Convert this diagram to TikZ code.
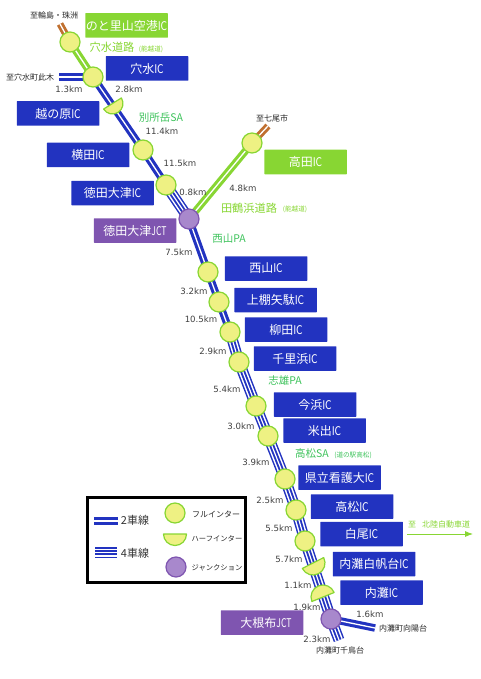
\documentclass[tikz,border=0pt]{standalone}
\usepackage{graphicx}
\usepackage{fontspec}
\setmainfont{DejaVu Sans}
\newfontfamily\jpf{Noto Sans CJK JP}
\usetikzlibrary{backgrounds,arrows.meta}
\newcommand{\narrowIC}{\scalebox{0.85}[1]{IC}}
\newcommand{\narrowJCT}{\scalebox{0.72}[1]{JCT}}
\definecolor{rblue}{HTML}{2233C0}
\definecolor{rgreen}{HTML}{88D633}
\definecolor{rtxt}{HTML}{3CC25A}
\definecolor{rpurple}{HTML}{7F55B0}
\definecolor{rjct}{HTML}{A888CC}
\definecolor{rfill}{HTML}{EEF183}
\definecolor{rbrown}{HTML}{C07030}
\tikzset{
 x=1pt,y=-1pt,
 sign/.style={anchor=center,minimum width=82.5pt,minimum height=24.5pt,inner sep=0pt,text=white,font=\jpf\fontsize{12}{12}\selectfont,rounded corners=0.5pt},
 icb/.style={sign,fill=rblue},
 grb/.style={sign,fill=rgreen},
 jcb/.style={sign,fill=rpurple},
 full/.style={circle,draw=rgreen,fill=rfill,line width=1.2pt,minimum size=20pt,inner sep=0pt},
 jct/.style={circle,draw=rpurple,fill=rjct,line width=1.2pt,minimum size=20pt,inner sep=0pt},
 halfic/.style={draw=rgreen,fill=rfill,line width=1.2pt,line join=round},
 km/.style={inner sep=0pt,text=black!75,font=\fontsize{8.6}{9}\selectfont},
 place/.style={inner sep=0pt,text=black!85,font=\jpf\fontsize{8}{9}\selectfont},
 roadname/.style={inner sep=0pt,text=rgreen,font=\jpf\fontsize{11.2}{12}\selectfont},
 svc/.style={inner sep=0pt,text=rtxt,font=\jpf\fontsize{10.5}{12}\selectfont},
 tiny/.style={inner sep=0pt,font=\jpf\fontsize{6.6}{7}\selectfont},
 lane2/.style={draw=rblue,line width=3.1pt,double=white,double distance=1.3pt},
 gr2/.style={draw=rgreen,line width=3.1pt,double=white,double distance=1.3pt},
 br2/.style={draw=rbrown,line width=2.8pt,double=white,double distance=1.3pt},
 lane4/.style={draw=rblue,line width=11pt,postaction={draw=white,line width=8pt},postaction={draw=rblue,line width=5pt},postaction={draw=white,line width=1.2pt}},
 legtxt/.style={place,font=\jpf\fontsize{7.3}{8}\selectfont},
}
\begin{document}
\begin{tikzpicture}
\useasboundingbox (0,0) rectangle (481,679);
% interchanges
\node[full] (noto) at (70,42) {};
\node[full] (anamizu) at (93,77) {};
\coordinate (koshi) at (112.5,103.5);
\node[full] (yokota) at (143,150) {};
\node[full] (tokuda) at (166,185) {};
\node[jct] (tokujct) at (189,219) {};
\node[full] (takada) at (252,143) {};
\node[full] (nishiyama) at (208,272) {};
\node[full] (kamitana) at (219,302) {};
\node[full] (yanagida) at (230,332) {};
\node[full] (chirihama) at (239,362) {};
\node[full] (imahama) at (256,406) {};
\node[full] (yonede) at (268,436) {};
\node[full] (kango) at (285,479) {};
\node[full] (takamatsu) at (296,510) {};
\node[full] (shirao) at (305,541) {};
\coordinate (shirahodai) at (313,563);
\coordinate (uchinada) at (323,597);
\node[jct] (one) at (331,619) {};
\coordinate (endwest) at (59,77);
\coordinate (endwajima) at (60,24);
\coordinate (endnanao) at (268,126);
\coordinate (endsouth) at (339,640);
\coordinate (endeast) at (375,628);
\begin{scope}[on background layer]
\draw[br2] (noto.center) -- (endwajima);
\draw[br2] (takada.center) -- (endnanao);
\draw[gr2] (noto.center) -- (anamizu.center);
\draw[gr2] (tokujct.center) -- (takada.center);
\draw[lane2] (anamizu.center) -- (endwest);
\draw[lane2] (anamizu.center) -- (yokota.center);
\draw[lane2] (yokota.center) -- (tokuda.center);
\draw[lane4] (tokuda.center) -- (tokujct.center);
\draw[lane2] (tokujct.center) -- (nishiyama.center);
\draw[lane2] (nishiyama.center) -- (kamitana.center);
\draw[lane2] (kamitana.center) -- (yanagida.center);
\draw[lane4] (yanagida.center) -- (chirihama.center);
\draw[lane4] (chirihama.center) -- (imahama.center);
\draw[lane4] (imahama.center) -- (yonede.center);
\draw[lane4] (yonede.center) -- (kango.center);
\draw[lane4] (kango.center) -- (takamatsu.center);
\draw[lane4] (takamatsu.center) -- (shirao.center);
\draw[lane4] (shirao.center) -- (one.center);
\draw[lane4] (one.center) -- (endsouth);
\draw[lane2] (one.center) -- (endeast);
\end{scope}
% half interchanges
\draw[halfic,shift={(koshi)},rotate=32] (-10.5pt,0pt) arc[start angle=180,end angle=360,radius=10.5pt] -- cycle;
\draw[halfic,shift={(shirahodai)},rotate=27] (-12pt,0pt) arc[start angle=180,end angle=360,radius=12pt] -- cycle;
\draw[halfic,shift={(uchinada)},rotate=22] (-12pt,0pt) arc[start angle=180,end angle=0,radius=12pt] -- cycle;
% signs
\node[grb] (s1) at (126.5,25.5) {のと里山空港\narrowIC};
\node[icb] (s2) at (147,68.5) {穴水\narrowIC};
\node[icb] (s3) at (58,113.5) {越の原\narrowIC};
\node[icb] (s4) at (88,155) {横田\narrowIC};
\node[icb] (s5) at (112.5,193) {徳田大津\narrowIC};
\node[jcb] (s6) at (135,230.5) {徳田大津\narrowJCT};
\node[grb] (s7) at (305.5,162) {高田\narrowIC};
\node[icb] (s8) at (266,268.5) {西山\narrowIC};
\node[icb] (s9) at (275.5,300) {上棚矢駄\narrowIC};
\node[icb] (s10) at (286,329.5) {柳田\narrowIC};
\node[icb] (s11) at (295,358.5) {千里浜\narrowIC};
\node[icb] (s12) at (315,404.5) {今浜\narrowIC};
\node[icb] (s13) at (324.5,430.5) {米出\narrowIC};
\node[icb] (s14) at (339.5,477.5) {県立看護大\narrowIC};
\node[icb] (s15) at (352,506.5) {高松\narrowIC};
\node[icb] (s16) at (361.5,534) {白尾\narrowIC};
\node[icb] (s17) at (374,564) {内灘白帆台\narrowIC};
\node[icb] (s18) at (381.5,592.5) {内灘\narrowIC};
\node[jcb] (s19) at (262,622.5) {\hspace{8pt}大根布\narrowJCT};
% labels
\node[place] (p1) at (54,15) {至輪島・珠洲};
\node[place] (p2) at (30,77) {至穴水町此木};
\node[place] (p3) at (272,118) {至七尾市};
\node[place] (p4) at (403,628) {内灘町向陽台};
\node[place] (p5) at (340,650) {内灘町千鳥台};
\node[roadname] (r1) at (112,47) {穴水道路};
\node[tiny,text=rgreen] (r1b) at (151,49.5) {(能越道)};
\node[roadname] (r2) at (249,208) {田鶴浜道路};
\node[tiny,text=rgreen] (r2b) at (295,209) {(能越道)};
\node[svc] (a1) at (161,118) {別所岳SA};
\node[svc] (a2) at (229,239) {西山PA};
\node[svc] (a3) at (285,381) {志雄PA};
\node[svc] (a4) at (312,454) {高松SA};
\node[tiny,text=rtxt] (a4b) at (353,455.5) {(道の駅高松)};
\node[km] at (69,89.5) {1.3km};
\node[km] at (129,89.5) {2.8km};
\node[km] at (162,131) {11.4km};
\node[km] at (180,163) {11.5km};
\node[km] at (193,192) {0.8km};
\node[km] at (243,188.5) {4.8km};
\node[km] at (179,252.5) {7.5km};
\node[km] at (194,291) {3.2km};
\node[km] at (201,319.5) {10.5km};
\node[km] at (213,351.5) {2.9km};
\node[km] at (227,389.5) {5.4km};
\node[km] at (241,426) {3.0km};
\node[km] at (256,462) {3.9km};
\node[km] at (270,500) {2.5km};
\node[km] at (279,528.5) {5.5km};
\node[km] at (289,559.5) {5.7km};
\node[km] at (298,585.5) {1.1km};
\node[km] at (307,607) {1.9km};
\node[km] at (370,614) {1.6km};
\node[km] at (317,639.5) {2.3km};
% to Hokuriku
\node[inner sep=0pt,text=rgreen,font=\jpf\fontsize{8}{9}\selectfont] (h) at (439,524) {至\hspace{6pt}北陸自動車道};
\coordinate (arrA) at (407,534);
\coordinate (arrB) at (473,534);
\draw[rgreen,line width=0.8pt,-{Latex[length=8pt,width=6pt]}] (arrA) -- (arrB);
% legend
\node[draw=black,line width=2.5pt,minimum width=158pt,minimum height=85pt,inner sep=0pt] (legend) at (166.5,540) {};
\coordinate (l2a) at (94,521);
\coordinate (l2b) at (118,521);
\coordinate (l4a) at (95,552.5);
\coordinate (l4b) at (117,552.5);
\draw[lane2] (l2a) -- (l2b);
\draw[lane4] (l4a) -- (l4b);
\node[inner sep=0pt,font=\jpf\fontsize{11}{12}\selectfont,text=black!80] (t2) at (135,520.5) {2車線};
\node[inner sep=0pt,font=\jpf\fontsize{11}{12}\selectfont,text=black!80] (t4) at (135,553) {4車線};
\node[full] (lf) at (175,513) {};
\draw[halfic,shift={(175,534)}] (-11.5pt,0pt) arc[start angle=180,end angle=360,radius=11.5pt] -- cycle;
\node[jct] (lj) at (176,567) {};
\node[legtxt,font=\jpf\fontsize{8}{9}\selectfont] (q1) at (216,514) {フルインター};
\node[legtxt] (q2) at (217,539) {ハーフインター};
\node[legtxt] (q3) at (217,568) {ジャンクション};
\end{tikzpicture}
\end{document}
